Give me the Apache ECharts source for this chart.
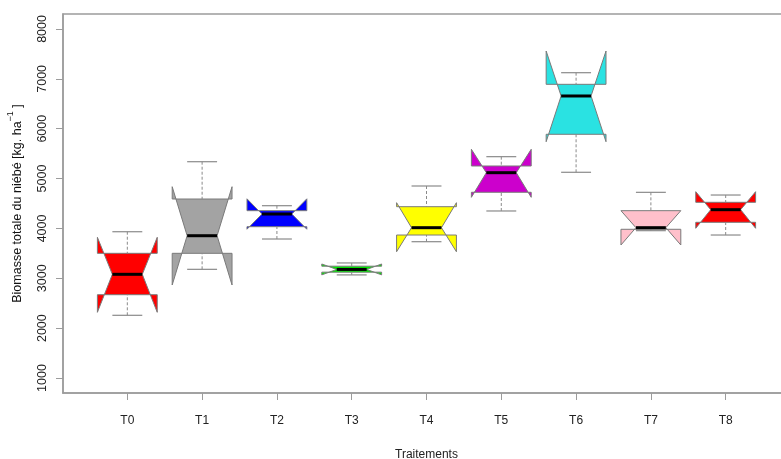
<!DOCTYPE html>
<html>
<head>
<meta charset="utf-8">
<script src="https://cdn.jsdelivr.net/npm/echarts@6/dist/echarts.min.js"></script>
<style>
  html, body { margin: 0; padding: 0; background: #fff; }
  #chart { width: 781px; height: 459px; }
</style>
</head>
<body>
<div id="chart"></div>
<script>
// Treatments and their five-number summaries (kg/ha), plus notch limits
const categories  = ['T0', 'T1', 'T2', 'T3', 'T4', 'T5', 'T6', 'T7', 'T8'];
const whiskerLow  = [2258, 3180, 3788, 3068, 3734, 4350, 5126, 3955, 3868];
const lowerHinge  = [2671, 3501, 4035, 3123, 3868, 4725, 5888, 3983, 4123];
const medians     = [3080, 3854, 4289, 3178, 4015, 5118, 6656, 4015, 4376];
const upperHinge  = [3501, 4590, 4356, 3243, 4436, 5252, 6890, 4356, 4524];
const whiskerHigh = [3934, 5338, 4456, 3308, 4851, 5439, 7123, 4724, 4670];
const notchLow    = [2318, 2866, 3984, 3069, 3533, 4624, 5739, 3668, 4003];
const notchHigh   = [3822, 4837, 4594, 3287, 4516, 5587, 7558, 4356, 4737];
const yTicks      = [1000, 2000, 3000, 4000, 5000, 6000, 7000, 8000];

const boxColors = ['#ff0000', '#a3a3a3', '#0000ff', '#00ee00', '#ffff00',
                   '#cc00cc', '#2ae2e2', '#ffc0cb', '#ff0000'];

const BOX_WEX = 0.8;       // box width in axis units
const NOTCH_FRAC = 0.5;    // width of the waist relative to the box
const STAPLE_FRAC = 0.5;   // whisker cap width relative to the box
const OUTLINE = '#7a7a7a';
const WHISKER = '#8a8a8a';
const AXIS = '#9c9c9c';

const xPositions = categories.map((_, i) => i + 1);
const boxData = categories.map((_, i) => [
  xPositions[i], whiskerLow[i], lowerHinge[i], medians[i],
  upperHinge[i], whiskerHigh[i], notchLow[i], notchHigh[i]
]);

function renderNotchedBox(params, api) {
  const x = api.value(0);
  const wl = api.value(1), q1 = api.value(2), med = api.value(3);
  const q3 = api.value(4), wh = api.value(5), cl = api.value(6), ch = api.value(7);
  const half = api.size([BOX_WEX, 0])[0] / 2;
  const cx = api.coord([x, med])[0];
  const py = v => api.coord([x, v])[1];
  const fill = boxColors[params.dataIndex];

  const outline = [
    [cx - half, py(q1)], [cx + half, py(q1)], [cx + half, py(cl)],
    [cx + half * NOTCH_FRAC, py(med)], [cx + half, py(ch)], [cx + half, py(q3)],
    [cx - half, py(q3)], [cx - half, py(ch)], [cx - half * NOTCH_FRAC, py(med)],
    [cx - half, py(cl)]
  ];
  const cap = half * STAPLE_FRAC;
  const seg = (x1, y1, x2, y2, style) => ({
    type: 'line', shape: { x1, y1, x2, y2 }, style
  });
  const dashed = { stroke: WHISKER, lineWidth: 1, lineDash: [3, 2] };
  const solid = { stroke: WHISKER, lineWidth: 1.2 };

  return {
    type: 'group',
    children: [
      { type: 'polygon', shape: { points: outline },
        style: { fill, stroke: OUTLINE, lineWidth: 1 } },
      seg(cx, py(wl), cx, py(q1), dashed),
      seg(cx, py(wh), cx, py(q3), dashed),
      seg(cx - cap, py(wl), cx + cap, py(wl), solid),
      seg(cx - cap, py(wh), cx + cap, py(wh), solid),
      seg(cx - half * NOTCH_FRAC, py(med), cx + half * NOTCH_FRAC, py(med),
          { stroke: '#000', lineWidth: 3 })
    ]
  };
}

const chart = echarts.init(document.getElementById('chart'), null, { renderer: 'canvas' });

const labelFont = { fontFamily: 'Liberation Sans, Arial, sans-serif', fontSize: 12.5, color: '#222' };
const narrowFont = { fontFamily: 'Liberation Sans Narrow, Liberation Sans, Arial, sans-serif', fontSize: 12, color: '#222' };

chart.setOption({
  animation: false,
  backgroundColor: '#fff',
  grid: {
    left: 63, top: 14, width: 727, height: 379,
    containLabel: false, outerBoundsMode: 'none',
    show: true, borderColor: AXIS, borderWidth: 1.5, backgroundColor: 'transparent'
  },
  xAxis: {
    type: 'value', min: 0.14, max: 9.86,
    axisLine: { show: true, onZero: false, lineStyle: { color: AXIS, width: 1.5 } },
    axisTick: { show: true, customValues: xPositions, length: 7, lineStyle: { color: AXIS } },
    axisLabel: {
      customValues: xPositions, margin: 22,
      formatter: v => categories[Math.round(v) - 1], ...narrowFont
    },
    splitLine: { show: false },
    name: 'Traitements', nameLocation: 'middle', nameGap: 56,
    nameTextStyle: { ...narrowFont }
  },
  yAxis: {
    type: 'value', min: 700, max: 8300,
    axisLine: { show: true, lineStyle: { color: AXIS, width: 1.5 } },
    axisTick: { show: true, customValues: yTicks, length: 7, lineStyle: { color: AXIS } },
    axisLabel: { customValues: yTicks, rotate: 90, margin: 14, formatter: v => String(v), ...labelFont },
    splitLine: { show: false }
  },
  graphic: [{
    type: 'text',
    x: 15, y: 203.5,
    rotation: Math.PI / 2,
    style: {
      text: '{a|Biomasse totale du niébé [kg. ha}{s|−1}{a| ]}',
      align: 'center', verticalAlign: 'middle',
      rich: {
        a: { fontFamily: 'Liberation Sans, Arial, sans-serif', fontSize: 12.5, fill: '#111', lineHeight: 18, verticalAlign: 'bottom' },
        s: { fontFamily: 'Liberation Sans, Arial, sans-serif', fontSize: 9, fill: '#111', lineHeight: 18, verticalAlign: 'top' }
      }
    }
  }],
  series: [{
    type: 'custom',
    renderItem: renderNotchedBox,
    encode: { x: 0, y: [1, 2, 3, 4, 5, 6, 7] },
    data: boxData
  }]
});
</script>
</body>
</html>
